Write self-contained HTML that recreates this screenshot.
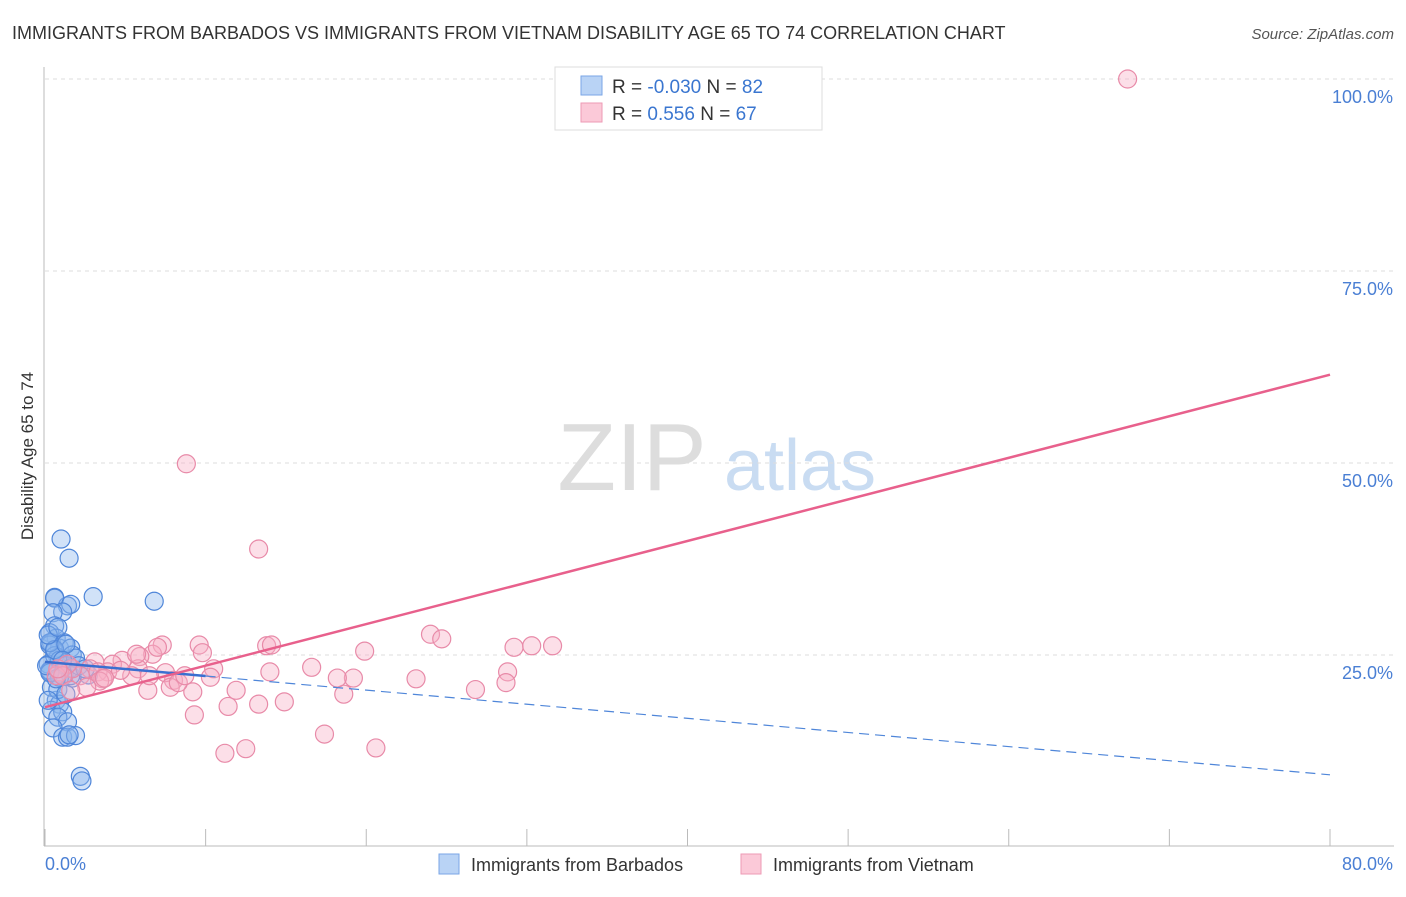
<!DOCTYPE html>
<html><head><meta charset="utf-8"><style>
body{margin:0;background:#fff;font-family:"Liberation Sans",sans-serif;}
svg text{font-family:"Liberation Sans",sans-serif;}
</style></head><body>
<svg id="chart" width="1406" height="892" viewBox="0 0 1406 892" xmlns="http://www.w3.org/2000/svg">
<text x="12" y="39" font-size="18" fill="#333">IMMIGRANTS FROM BARBADOS VS IMMIGRANTS FROM VIETNAM DISABILITY AGE 65 TO 74 CORRELATION CHART</text>
<text x="1394" y="39" font-size="15" fill="#555" text-anchor="end" font-style="italic">Source: ZipAtlas.com</text>
<g>
<text x="632" y="490" font-size="96" fill="#ddd" text-anchor="middle" font-family="Liberation Serif">ZIP</text>
<text x="800" y="490" font-size="72" fill="#c9dcf2" text-anchor="middle">atlas</text>
</g>
<g id="grid"></g>
<line x1="44" y1="67" x2="44" y2="846" stroke="#bbb"/>
<line x1="44" y1="846" x2="1394" y2="846" stroke="#bbb"/>
<g id="xticks"></g>
<text transform="translate(33,456) rotate(-90)" font-size="17" fill="#333" text-anchor="middle">Disability Age 65 to 74</text>
<text x="45" y="870" font-size="18" fill="#4a7fd4">0.0%</text>
<text x="1393" y="870" font-size="18" fill="#4a7fd4" text-anchor="end">80.0%</text>
<g id="points"></g>
<g id="trends"></g>
<g>
<rect x="555" y="67" width="267" height="63" fill="#fff" stroke="#ddd"/>
<rect x="581" y="76" width="21" height="19" fill="#b9d3f5" stroke="#7aa6e6"/>
<rect x="581" y="103" width="21" height="19" fill="#fbc9d8" stroke="#ee9ab5"/>
<text x="612" y="93" font-size="19" fill="#333">R = <tspan fill="#3a76d0">-0.030</tspan>   N = <tspan fill="#3a76d0">82</tspan></text>
<text x="612" y="120" font-size="19" fill="#333">R =   <tspan fill="#3a76d0">0.556</tspan>   N = <tspan fill="#3a76d0">67</tspan></text>
</g>
<g>
<rect x="439" y="854" width="20" height="20" fill="#b9d3f5" stroke="#7aa6e6"/>
<text x="471" y="871" font-size="18" fill="#333">Immigrants from Barbados</text>
<rect x="741" y="854" width="20" height="20" fill="#fbc9d8" stroke="#ee9ab5"/>
<text x="773" y="871" font-size="18" fill="#333">Immigrants from Vietnam</text>
</g>
</svg>
<script>
const yTicks=[25,50,75,100];
const yTickLabels=["25.0%","50.0%","75.0%","100.0%"];
const xTicks=[0,10,20,30,40,50,60,70,80];
const vietnamX=[8.8,13.3,67.4,7.3,9.6,13.8,14.1,19.9,24.0,24.7,29.2,30.3,31.6,28.8,28.7,26.8,23.1,18.6,19.2,18.2,16.6,14.0,11.9,10.5,10.3,9.2,8.0,7.5,6.7,5.9,5.8,4.8,4.2,3.9,3.1,2.8,2.2,1.7,1.4,0.9,0.7,3.3,3.6,5.4,6.4,7.8,8.3,8.7,6.5,11.4,9.3,14.9,13.3,17.4,20.6,12.5,11.2,3.4,1.1,0.8,2.6,4.7,3.7,9.8,7.0,5.7,1.6];
const vietnamY=[49.9,38.8,100,26.3,26.3,26.2,26.3,25.5,27.7,27.1,26.0,26.2,26.2,22.8,21.4,20.5,21.9,19.9,22.0,22.0,23.4,22.8,20.4,23.2,22.1,20.2,21.7,22.7,25.1,24.8,23.2,24.3,23.8,22.8,24.1,23.2,22.3,23.2,23.8,22.8,22.3,22.8,21.9,22.3,20.4,20.8,21.4,22.3,22.3,18.3,17.2,18.9,18.6,14.7,12.9,12.8,12.2,21.6,22.3,23.2,20.8,23.0,22.0,25.3,26.0,25.1,20.4];
const barbadosX=[1.0,1.5,3.0,6.8,0.6,1.4,0.6,1.6,1.1,0.5,0.6,0.3,0.7,0.4,0.9,1.2,1.6,1.7,0.3,0.6,0.8,1.1,0.3,1.2,1.7,2.7,0.7,0.9,0.4,1.1,0.8,1.4,0.5,1.1,1.4,1.9,1.5,2.2,2.3,0.2,0.3,0.6,0.9,1.3,1.6,1.9,0.3,0.6,0.2,0.8,0.4,0.8,1.3,0.2,0.9,1.6,2.1,2.5,1.3,0.3,0.1,1.1,0.7];
const barbadosY=[40.1,37.6,32.6,32.0,32.5,31.4,32.4,31.6,30.6,30.5,28.8,27.9,27.2,26.6,25.9,26.6,25.9,25.0,26.3,25.5,24.7,23.7,23.0,22.4,22.0,22.4,19.1,18.6,17.8,17.6,16.9,16.3,15.5,14.3,14.3,14.5,14.6,9.2,8.6,23.8,22.9,24.9,24.3,23.6,23.3,24.6,26.6,25.7,27.6,28.6,20.8,20.5,19.9,19.1,22.1,22.3,23.6,23.2,26.4,22.7,23.6,24.3,21.9];
const vietnamTrend=[18.2,61.5];
const barbadosTrend=[24.1,9.4];
const X0=45,X1=1330,Y0=847,PXPCT=7.68;
const sx=v=>X0+(v/80)*(X1-X0);
const sy=v=>Y0-v*PXPCT;
const NS="http://www.w3.org/2000/svg";
function mk(tag,attrs,parent){const e=document.createElementNS(NS,tag);for(const k in attrs)e.setAttribute(k,attrs[k]);parent.appendChild(e);return e;}
const grid=document.getElementById('grid');
yTicks.forEach((t,i)=>{
 const l=mk('line',{x1:45,x2:1394,y1:sy(t),y2:sy(t),stroke:'#ddd','stroke-dasharray':'4,4'},grid);
 
 
 const tx=mk('text',{x:1393,y:sy(t)+24,'font-size':18,fill:'#4a7fd4','text-anchor':'end'},grid);
 tx.textContent=yTickLabels[i];
 
 
});
const xt=document.getElementById('xticks');
xTicks.forEach(t=>{
 const l=mk('line',{x1:sx(t),x2:sx(t),y1:829,y2:846,stroke:'#bbb'},xt);
 
 
});
const pts=document.getElementById('points');
barbadosX.forEach((v,i)=>{
 const c=mk('circle',{cx:sx(v),cy:sy(barbadosY[i]),r:9,fill:'rgba(140,182,238,0.4)',stroke:'#4f86d9','stroke-width':1.2},pts);
 
 
});
vietnamX.forEach((v,i)=>{
 const c=mk('circle',{cx:sx(v),cy:sy(vietnamY[i]),r:9,fill:'rgba(248,175,198,0.4)',stroke:'#e88aa8','stroke-width':1.2},pts);
 
 
});
const tr=document.getElementById('trends');
const bMid=10, bMidY=barbadosTrend[0]+(barbadosTrend[1]-barbadosTrend[0])*bMid/80;
const b1=mk('line',{x1:sx(0),y1:sy(barbadosTrend[0]),x2:sx(bMid),y2:sy(bMidY),stroke:'#3a6fd0','stroke-width':2.5},tr);


const b2=mk('line',{x1:sx(bMid),y1:sy(bMidY),x2:sx(80),y2:sy(barbadosTrend[1]),stroke:'#4f86d9','stroke-width':1.2,'stroke-dasharray':'10,6'},tr);


const p=mk('line',{x1:sx(0),y1:sy(vietnamTrend[0]),x2:sx(80),y2:sy(vietnamTrend[1]),stroke:'#e8608c','stroke-width':2.5},tr);


</script>
</body></html>
